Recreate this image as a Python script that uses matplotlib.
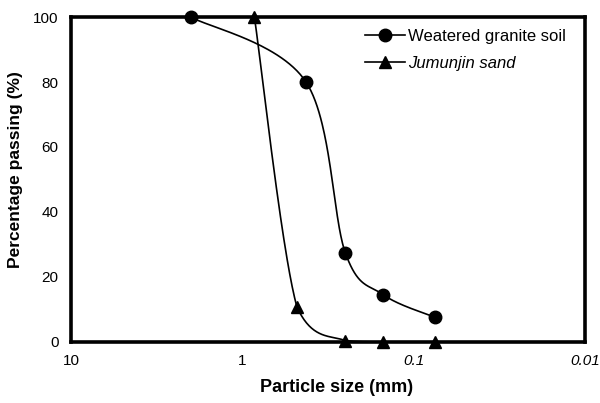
import numpy as np
import matplotlib
matplotlib.use("Agg")
import matplotlib.pyplot as plt

plt.rcParams['font.family'] = ['Liberation Sans', 'DejaVu Sans']

# Data
granite_size = [2.0, 0.425, 0.25, 0.15, 0.075]      # mm
granite_pass = [100, 80, 27.3, 14.5, 7.6]          # %
sand_size = [0.85, 0.48, 0.25, 0.15, 0.075]         # mm
sand_pass = [100, 10.8, 0.4, 0, 0]                  # %

granite_label = "Weatered granite soil"
sand_label = "Jumunjin sand"
x_ticks = [10, 1, 0.1, 0.01]
x_tick_labels = ["10", "1", "0.1", "0.01"]
y_ticks = [0, 20, 40, 60, 80, 100]

# approximate pixel scale (per decade / per percent) for Excel-like smoothing
SX, SY = 171.0, 3.25


def smooth(sizes, vals, n=60):
    """Smoothed line: cubic Bezier through points, controls at P_i +/- (P_{i+1}-P_{i-1})/6,
    with control heights kept within each segment's range (no overshoot)."""
    P = np.column_stack([np.log10(sizes) * SX, np.asarray(vals, float) * SY])
    m = len(P)
    out = []
    t = np.linspace(0, 1, n)[:, None]
    for i in range(m - 1):
        p0 = P[i - 1] if i > 0 else P[i]
        p1, p2 = P[i], P[i + 1]
        p3 = P[i + 2] if i + 2 < m else P[i + 1]
        c1 = p1 + (p2 - p0) / 6.0
        c2 = p2 - (p3 - p1) / 6.0
        lo, hi = min(p1[1], p2[1]), max(p1[1], p2[1])
        c1[1] = np.clip(c1[1], lo, hi)
        c2[1] = np.clip(c2[1], lo, hi)
        seg = ((1 - t) ** 3) * p1 + 3 * ((1 - t) ** 2) * t * c1 + 3 * (1 - t) * t ** 2 * c2 + t ** 3 * p2
        out.append(seg)
    C = np.vstack(out)
    return 10 ** (C[:, 0] / SX), C[:, 1] / SY


fig = plt.figure(figsize=(6.0, 4.03), dpi=100)
ax = fig.add_axes([0.1183, 0.1514, 0.8567, 0.8064])

gx, gy = smooth(granite_size, granite_pass)
sx, sy = smooth(sand_size, sand_pass)
ax.plot(gx, gy, color='black', lw=1.2, clip_on=False)
ax.plot(sx, sy, color='black', lw=1.2, clip_on=False)
ax.plot(granite_size, granite_pass, 'o', color='black', ms=9, clip_on=False, zorder=5)
ax.plot(sand_size, sand_pass, '^', color='black', ms=8, clip_on=False, zorder=5)

# legend proxies
h1, = ax.plot([], [], '-o', color='black', ms=9, lw=1.2)
h2, = ax.plot([], [], '-^', color='black', ms=8, lw=1.2)
leg = ax.legend([h1, h2], [granite_label, sand_label], loc='upper left',
                frameon=False, fontsize=12, handlelength=2.4, handletextpad=0.15,
                borderaxespad=0.0, labelspacing=0.75, bbox_to_anchor=(0.56, 0.985))
leg.get_texts()[1].set_style('italic')

ax.set_xscale('log')
ax.set_xlim(10, 0.01)
ax.set_ylim(0, 100)
ax.set_xticks(x_ticks)
ax.set_xticklabels(x_tick_labels)
ax.minorticks_off()
ax.set_yticks(y_ticks)
ax.tick_params(length=0, labelsize=11, pad=9)
for lab in ax.get_xticklabels()[2:]:
    lab.set_style('italic')
for s in ax.spines.values():
    s.set_linewidth(2.6)

ax.set_xlabel("Particle size (mm)", fontsize=13, fontweight='bold')
ax.set_ylabel("Percentage passing (%)", fontsize=12.5, fontweight='bold')
ax.xaxis.set_label_coords(0.517, -0.115)
ax.yaxis.set_label_coords(-0.093, 0.53)

fig.savefig("out.png", dpi=100)
